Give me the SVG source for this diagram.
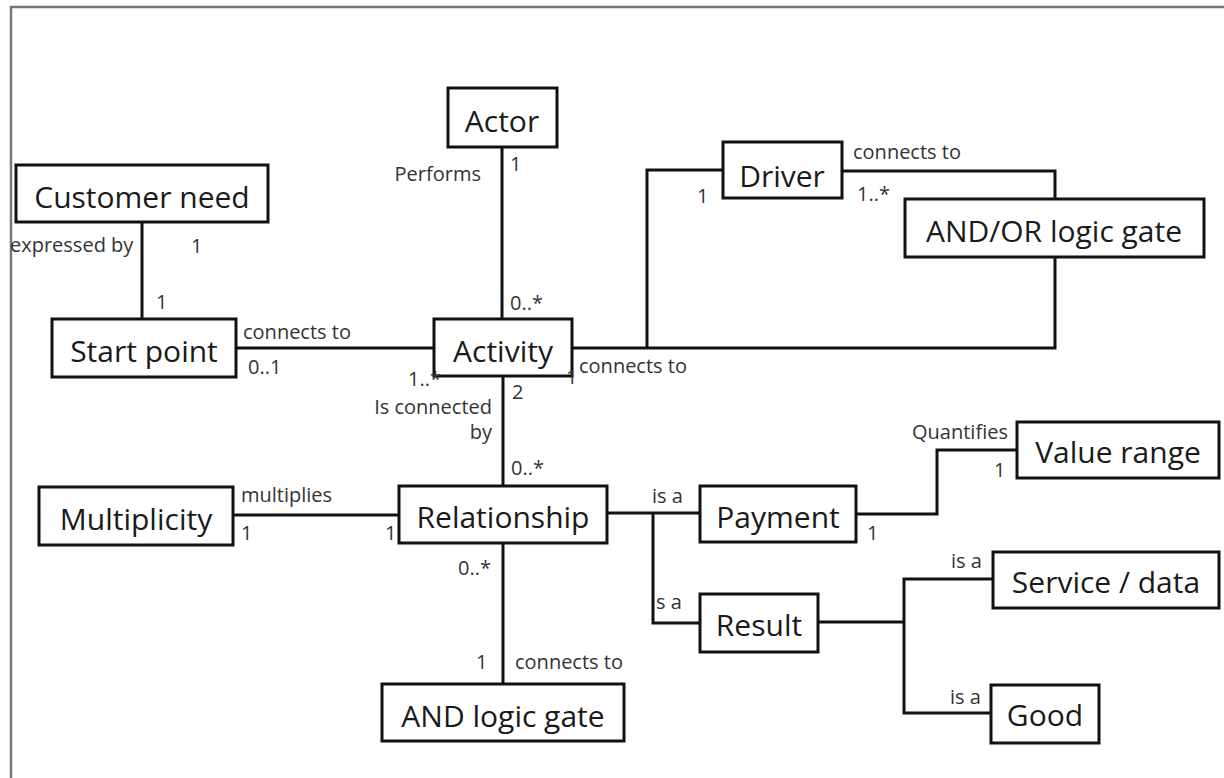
<svg xmlns="http://www.w3.org/2000/svg" width="1224" height="778" viewBox="0 0 1224 778">
<style>
.box{fill:#fff;stroke:#111;stroke-width:3}
.nt{font-family:"Open Sans","Liberation Sans",sans-serif;font-size:30px;fill:#1a1a1a;text-anchor:middle}
.lb{font-family:"Open Sans","Liberation Sans",sans-serif;font-size:20px;fill:#333}
.e{text-anchor:end}
.c{fill:none;stroke:#111;stroke-width:3}
</style>
<rect width="1224" height="778" fill="#fff"/>
<path d="M11,778 V7 H1224" fill="none" stroke="#777" stroke-width="2.5"/>
<g id="connectors">
<path class="c" d="M142,222 V319"/>
<path class="c" d="M236,348 H434"/>
<path class="c" d="M502,147 V319"/>
<path class="c" d="M572,348 H1055 V257"/>
<path class="c" d="M647,348 V170 H723"/>
<path class="c" d="M842,171 H1055 V199"/>
<path class="c" d="M503,376 V486"/>
<path class="c" d="M233,515 H399"/>
<path class="c" d="M607,513 H700"/>
<path class="c" d="M653,513 V623 H700"/>
<path class="c" d="M856,514 H937 V450 H1017"/>
<path class="c" d="M818,622 H904"/>
<path class="c" d="M993,579 H904 V713 H991"/>
<path class="c" d="M503,543 V684"/>
</g>
<g id="customer-need"><rect class="box" x="16" y="165" width="252" height="57"/><text class="nt" x="142" y="208">Customer need</text></g>
<g id="start-point"><rect class="box" x="52" y="319" width="184" height="58"/><text class="nt" x="144" y="362">Start point</text></g>
<g id="actor"><rect class="box" x="448" y="88" width="109" height="59"/><text class="nt" x="502" y="132">Actor</text></g>
<g id="activity"><rect class="box" x="434" y="319" width="138" height="57"/><text class="nt" x="503" y="362">Activity</text></g>
<g id="driver"><rect class="box" x="723" y="142" width="119" height="56"/><text class="nt" x="782" y="187">Driver</text></g>
<g id="and-or-gate"><rect class="box" x="905" y="199" width="299" height="58"/><text class="nt" x="1054" y="242">AND/OR logic gate</text></g>
<g id="multiplicity"><rect class="box" x="39" y="487" width="194" height="58"/><text class="nt" x="136" y="530">Multiplicity</text></g>
<g id="relationship"><rect class="box" x="399" y="486" width="208" height="57"/><text class="nt" x="503" y="528">Relationship</text></g>
<g id="payment"><rect class="box" x="700" y="486" width="156" height="56"/><text class="nt" x="778" y="528">Payment</text></g>
<g id="value-range"><rect class="box" x="1017" y="422" width="202" height="56"/><text class="nt" x="1118" y="463">Value range</text></g>
<g id="result"><rect class="box" x="700" y="594" width="118" height="58"/><text class="nt" x="759" y="636">Result</text></g>
<g id="service-data"><rect class="box" x="993" y="552" width="226" height="56"/><text class="nt" x="1106" y="593">Service / data</text></g>
<g id="good"><rect class="box" x="991" y="685" width="108" height="58"/><text class="nt" x="1045" y="726">Good</text></g>
<g id="and-gate"><rect class="box" x="382" y="684" width="242" height="57"/><text class="nt" x="503" y="727">AND logic gate</text></g>
<g id="labels">
<text class="lb" x="10" y="252">expressed by</text>
<text class="lb" x="191" y="253">1</text>
<text class="lb" x="156" y="309">1</text>
<text class="lb" x="243" y="339">connects to</text>
<text class="lb" x="248" y="374">0..1</text>
<text class="lb e" x="481" y="181">Performs</text>
<text class="lb" x="510" y="171">1</text>
<text class="lb" x="510" y="310">0..*</text>
<text class="lb" x="697" y="203">1</text>
<text class="lb" x="853" y="159">connects to</text>
<text class="lb" x="857" y="201">1..*</text>
<text class="lb" x="579" y="373">connects to</text>
<text class="lb" x="566" y="384">1</text>
<text class="lb" x="512" y="399">2</text>
<text class="lb e" x="492" y="414">Is connected</text>
<text class="lb e" x="492" y="439">by</text>
<text class="lb" x="408" y="386" font-size="16">1..*</text>
<text class="lb" x="511" y="475">0..*</text>
<text class="lb" x="241" y="502">multiplies</text>
<text class="lb" x="241" y="540">1</text>
<text class="lb" x="385" y="540">1</text>
<text class="lb" x="652" y="503">is a</text>
<text class="lb" x="656" y="609">s a</text>
<text class="lb" x="912" y="439">Quantifies</text>
<text class="lb" x="994" y="477">1</text>
<text class="lb" x="867" y="540">1</text>
<text class="lb" x="951" y="568">is a</text>
<text class="lb" x="950" y="704">is a</text>
<text class="lb e" x="491" y="575">0..*</text>
<text class="lb" x="476" y="669">1</text>
<text class="lb" x="515" y="669">connects to</text>
</g>
</svg>
